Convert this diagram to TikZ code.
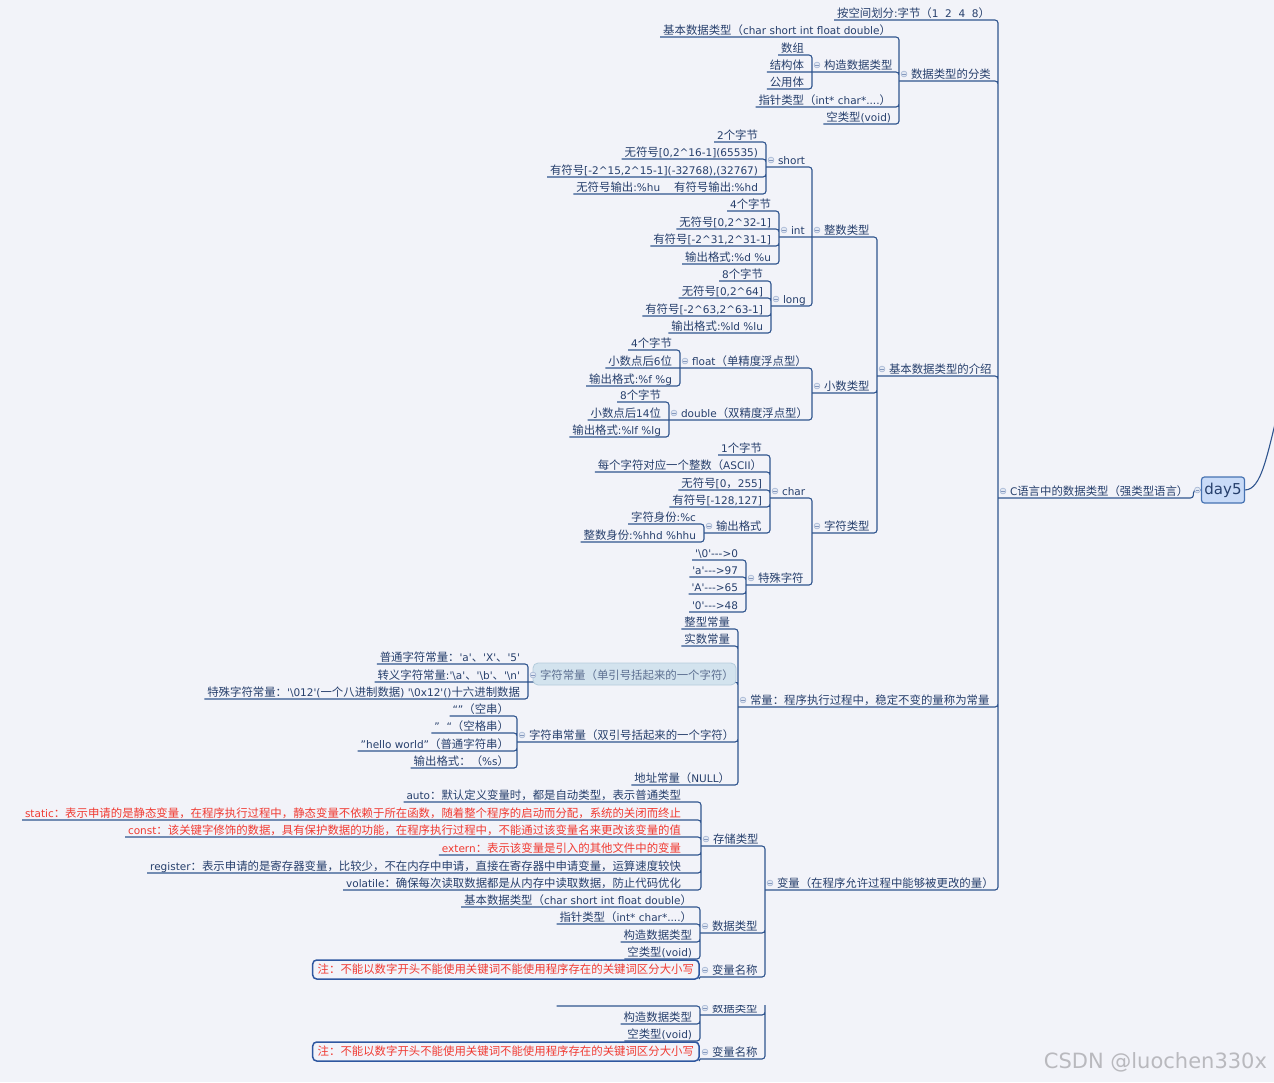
\documentclass[tikz,border=0pt]{standalone}
\usepackage{fontspec}
\usetikzlibrary{backgrounds}

\newfontfamily\latinfont{DejaVu Sans}
\newfontfamily\cjkfont{Noto Sans CJK SC}[Scale=1.086]
% switch to the CJK face for every CJK character
\XeTeXinterchartokenstate=1
\newXeTeXintercharclass\cjkclass
\count255="2E80
\loop
  \XeTeXcharclass\count255=\cjkclass
  \ifnum\count255<"9FFF \advance\count255 by 1
\repeat
\count255="FF00
\loop
  \XeTeXcharclass\count255=\cjkclass
  \ifnum\count255<"FFEF \advance\count255 by 1
\repeat
\XeTeXinterchartoks 0 \cjkclass = {\begingroup\cjkfont}
\XeTeXinterchartoks 4095 \cjkclass = {\begingroup\cjkfont}
\XeTeXinterchartoks \cjkclass 0 = {\endgroup}
\XeTeXinterchartoks \cjkclass 4095 = {\endgroup}

\definecolor{paper}{HTML}{F2F3F9}
\definecolor{ink}{HTML}{263F6C}
\definecolor{wirec}{HTML}{30558F}
\definecolor{redtext}{HTML}{F03A32}
\definecolor{foldfill}{HTML}{E2E8F3}
\definecolor{foldline}{HTML}{A3B4D2}
\definecolor{foldbarc}{HTML}{8497BC}
\definecolor{pickfill}{HTML}{D3E3EE}
\definecolor{pickline}{HTML}{B4CCDC}
\definecolor{rootfill}{HTML}{C9DBF8}
\definecolor{rootline}{HTML}{4672B2}
\definecolor{boxline}{HTML}{2E57A0}
\definecolor{wmgray}{HTML}{B9B9BE}

\tikzset{
  every node/.style={font=\latinfont\fontsize{10.5}{12}\selectfont, text=ink, inner xsep=3pt, inner ysep=3pt, outer sep=0pt, text height=8pt, text depth=0pt},
  leafnode/.style={anchor=south east, xshift=-5pt},
  branchnode/.style={anchor=south west, execute at begin node={\kern9pt}},
  wire/.style={draw=wirec, line width=1.1pt, rounded corners=3pt},
  foldmark/.style={draw=foldline, fill=foldfill, line width=0.6pt},
  foldbar/.style={draw=foldbarc, line width=0.7pt},
  topnode/.style={draw=rootline, fill=rootfill, line width=1.2pt, rounded corners=3pt, minimum width=42pt, minimum height=26pt, font=\latinfont\fontsize{15}{18}\selectfont, text height=11pt, text depth=3pt, inner ysep=0pt},
  notebox/.style={anchor=south east, draw=boxline, fill=paper, line width=1.5pt, rounded corners=4pt, text=redtext, inner xsep=5pt, inner ysep=4pt, text height=9pt, text depth=2pt},
  pickbox/.style={fill=pickfill, draw=pickline, line width=0.8pt, rounded corners=5pt},
  wmark/.style={font=\latinfont\fontsize{21}{24}\selectfont, text=wmgray, anchor=base east, text height=, text depth=},
}

\begin{document}
\begin{tikzpicture}[x=1pt,y=-1pt]
  \useasboundingbox (0,0) rectangle (1274,1082);
  \begin{scope}[on background layer]
    \fill[paper] (0,0) rectangle (1274,1082);
  \end{scope}

  \node[topnode] (day5) at (1223,490) {day5};
  \node[branchnode] (cyy) at (998,498) {C语言中的数据类型（强类型语言）};

  \node[leafnode] (kj) at (998,20) {按空间划分:字节（1~~2~~4~~8）};
  \node[branchnode] (fl) at (899,81) {数据类型的分类};
  \node[branchnode] (js) at (877,376) {基本数据类型的介绍};
  \node[branchnode] (cl) at (738,707) {常量：程序执行过程中，稳定不变的量称为常量};
  \node[branchnode] (bl) at (765,890) {变量（在程序允许过程中能够被更改的量）};

  % data type classes
  \node[leafnode] (jb) at (899,37) {基本数据类型（char short int float double）};
  \node[branchnode] (gz) at (812,72) {构造数据类型};
  \node[leafnode] (zz) at (899,107) {指针类型（int* char*....）};
  \node[leafnode] (kl) at (899,124) {空类型(void)};
  \node[leafnode] (sz) at (812,55) {数组};
  \node[leafnode] (jg) at (812,72) {结构体};
  \node[leafnode] (gy) at (812,89) {公用体};

  % basic types
  \node[branchnode] (zs) at (812,237) {整数类型};
  \node[branchnode] (xs) at (812,393) {小数类型};
  \node[branchnode] (zf) at (812,533) {字符类型};

  \node[branchnode] (sh) at (766,167) {short};
  \node[branchnode] (it) at (779,237) {int};
  \node[branchnode] (lg) at (771,306) {long};
  \node[leafnode] (sh1) at (766,142) {2个字节};
  \node[leafnode] (sh2) at (766,159) {无符号[0,2\textasciicircum16-1](65535)};
  \node[leafnode] (sh3) at (766,177) {有符号[-2\textasciicircum15,2\textasciicircum15-1](-32768),(32767)};
  \node[leafnode] (sh4) at (766,194) {无符号输出:\%hu\hspace{14pt}有符号输出:\%hd};
  \node[leafnode] (it1) at (779,211) {4个字节};
  \node[leafnode] (it2) at (779,229) {无符号[0,2\textasciicircum32-1]};
  \node[leafnode] (it3) at (779,246) {有符号[-2\textasciicircum31,2\textasciicircum31-1]};
  \node[leafnode] (it4) at (779,264) {输出格式:\%d \%u};
  \node[leafnode] (lg1) at (771,281) {8个字节};
  \node[leafnode] (lg2) at (771,298) {无符号[0,2\textasciicircum64]};
  \node[leafnode] (lg3) at (771,316) {有符号[-2\textasciicircum63,2\textasciicircum63-1]};
  \node[leafnode] (lg4) at (771,333) {输出格式:\%ld \%lu};

  \node[branchnode] (ft) at (680,368) {float（单精度浮点型）};
  \node[branchnode] (db) at (669,420) {double（双精度浮点型）};
  \node[leafnode] (ft1) at (680,350) {4个字节};
  \node[leafnode] (ft2) at (680,368) {小数点后6位};
  \node[leafnode] (ft3) at (680,386) {输出格式:\%f \%g};
  \node[leafnode] (db1) at (669,402) {8个字节};
  \node[leafnode] (db2) at (669,420) {小数点后14位};
  \node[leafnode] (db3) at (669,437) {输出格式:\%lf \%lg};

  \node[branchnode] (ch) at (770,498) {char};
  \node[branchnode] (ts) at (746,585) {特殊字符};
  \node[leafnode] (ch1) at (770,455) {1个字节};
  \node[leafnode] (ch2) at (770,472) {每个字符对应一个整数（ASCII）};
  \node[leafnode] (ch3) at (770,490) {无符号[0，255]};
  \node[leafnode] (ch4) at (770,507) {有符号[-128,127]};
  \node[branchnode] (sc) at (704,533) {输出格式};
  \node[leafnode] (sc1) at (704,524) {字符身份:\%c};
  \node[leafnode] (sc2) at (704,542) {整数身份:\%hhd \%hhu};
  \node[leafnode] (ts1) at (746,560) {'\textbackslash0'--->0};
  \node[leafnode] (ts2) at (746,577) {'a'--->97};
  \node[leafnode] (ts3) at (746,594) {'A'--->65};
  \node[leafnode] (ts4) at (746,612) {'0'--->48};

  % constants
  \node[leafnode] (zx) at (738,629) {整型常量};
  \node[leafnode] (ss) at (738,646) {实数常量};
  \path[pickbox] (533,663) rectangle (736,685);
  \node[branchnode, text=ink!75] (zc) at (528,682) {字符常量（单引号括起来的一个字符）};
  \node[branchnode] (zcc) at (517,742) {字符串常量（双引号括起来的一个字符）};
  \node[leafnode] (dz) at (738,785) {地址常量（NULL）};
  \node[leafnode] (zc1) at (528,664) {普通字符常量：'a'、'X'、'5'};
  \node[leafnode] (zc2) at (528,682) {转义字符常量:'\textbackslash a'、'\textbackslash b'、'\textbackslash n'};
  \node[leafnode] (zc3) at (528,699) {特殊字符常量：'\textbackslash012'(一个八进制数据) '\textbackslash0x12'()十六进制数据};
  \node[leafnode] (zcc1) at (517,716) {“”（空串）};
  \node[leafnode] (zcc2) at (517,733) {”~~“（空格串）};
  \node[leafnode] (zcc3) at (517,751) {”hello world”（普通字符串）};
  \node[leafnode] (zcc4) at (517,768) {输出格式：（\%s）};

  % variables
  \node[branchnode] (cc) at (701,846) {存储类型};
  \node[branchnode] (sj) at (700,933) {数据类型};
  \node[branchnode] (mc) at (700,977) {变量名称};
  \node[leafnode, xshift=-12pt] (cc1) at (701,802) {auto：默认定义变量时，都是自动类型，表示普通类型};
  \node[leafnode, xshift=-12pt, text=redtext] (cc2) at (701,820) {static：表示申请的是静态变量，在程序执行过程中，静态变量不依赖于所在函数，随着整个程序的启动而分配，系统的关闭而终止};
  \node[leafnode, xshift=-12pt, text=redtext] (cc3) at (701,837) {const：该关键字修饰的数据，具有保护数据的功能，在程序执行过程中，不能通过该变量名来更改该变量的值};
  \node[leafnode, xshift=-12pt, text=redtext] (cc4) at (701,855) {extern：表示该变量是引入的其他文件中的变量};
  \node[leafnode, xshift=-12pt] (cc5) at (701,873) {register：表示申请的是寄存器变量，比较少，不在内存中申请，直接在寄存器中申请变量，运算速度较快};
  \node[leafnode, xshift=-12pt] (cc6) at (701,890) {volatile：确保每次读取数据都是从内存中读取数据，防止代码优化};
  \node[leafnode] (sj1) at (700,907) {基本数据类型（char short int float double）};
  \node[leafnode] (sj2) at (700,924) {指针类型（int* char*....）};
  \node[leafnode] (sj3) at (700,942) {构造数据类型};
  \node[leafnode] (sj4) at (700,959) {空类型(void)};
  \node[notebox] (zy) at (699,979) {注：不能以数字开头不能使用关键词不能使用程序存在的关键词区分大小写};

  \node[wmark] (wm) at (1270,1068) {CSDN @luochen330x};

  \begin{scope}[on background layer]
    \draw[wire] (cyy.south west) -| ([xshift=-8pt]day5.west) -- (day5.west);
    \draw[wire] (day5.east) .. controls (1262,490) and (1267,455) .. (1282,395);
    \draw[wire] (kj.south west) -| (cyy.south west) (fl.south west) -| (cyy.south west)
      (js.south west) -| (cyy.south west) (cl.south west) -| (cyy.south west) (bl.south west) -| (cyy.south west);
    \draw[wire] (jb.south west) -| (fl.south west) (gz.south west) -| (fl.south west)
      (zz.south west) -| (fl.south west) (kl.south west) -| (fl.south west);
    \draw[wire] (sz.south west) -| (gz.south west) (jg.south west) -- (gz.south west) (gy.south west) -| (gz.south west);
    \draw[wire] (zs.south west) -| (js.south west) (xs.south west) -| (js.south west) (zf.south west) -| (js.south west);
    \draw[wire] (sh.south west) -| (zs.south west) (it.south west) -- (zs.south west) (lg.south west) -| (zs.south west);
    \draw[wire] (sh1.south west) -| (sh.south west) (sh2.south west) -| (sh.south west)
      (sh3.south west) -| (sh.south west) (sh4.south west) -| (sh.south west);
    \draw[wire] (it1.south west) -| (it.south west) (it2.south west) -| (it.south west)
      (it3.south west) -| (it.south west) (it4.south west) -| (it.south west);
    \draw[wire] (lg1.south west) -| (lg.south west) (lg2.south west) -| (lg.south west)
      (lg3.south west) -| (lg.south west) (lg4.south west) -| (lg.south west);
    \draw[wire] (ft.south west) -| (xs.south west) (db.south west) -| (xs.south west);
    \draw[wire] (ft1.south west) -| (ft.south west) (ft2.south west) -- (ft.south west) (ft3.south west) -| (ft.south west);
    \draw[wire] (db1.south west) -| (db.south west) (db2.south west) -- (db.south west) (db3.south west) -| (db.south west);
    \draw[wire] (ch.south west) -| (zf.south west) (ts.south west) -| (zf.south west);
    \draw[wire] (ch1.south west) -| (ch.south west) (ch2.south west) -| (ch.south west) (ch3.south west) -| (ch.south west)
      (ch4.south west) -| (ch.south west) (sc.south west) -| (ch.south west);
    \draw[wire] (sc1.south west) -| (sc.south west) (sc2.south west) -| (sc.south west);
    \draw[wire] (ts1.south west) -| (ts.south west) (ts2.south west) -| (ts.south west)
      (ts3.south west) -| (ts.south west) (ts4.south west) -| (ts.south west);
    \draw[wire] (zx.south west) -| (cl.south west) (ss.south west) -| (cl.south west) (zc.south west) -| (cl.south west)
      (zcc.south west) -| (cl.south west) (dz.south west) -| (cl.south west);
    \draw[wire] (zc1.south west) -| (zc.south west) (zc2.south west) -- (zc.south west) (zc3.south west) -| (zc.south west);
    \draw[wire] (zcc1.south west) -| (zcc.south west) (zcc2.south west) -| (zcc.south west)
      (zcc3.south west) -| (zcc.south west) (zcc4.south west) -| (zcc.south west);
    \draw[wire] (cc.south west) -| (bl.south west) (sj.south west) -| (bl.south west) (mc.south west) -| (bl.south west);
    \draw[wire] (cc1.south west) -| (cc.south west) (cc2.south west) -| (cc.south west) (cc3.south west) -| (cc.south west)
      (cc4.south west) -| (cc.south west) (cc5.south west) -| (cc.south west) (cc6.south west) -| (cc.south west);
    \draw[wire] (sj1.south west) -| (sj.south west) (sj2.south west) -| (sj.south west)
      (sj3.south west) -| (sj.south west) (sj4.south west) -| (sj.south west);
    \draw[wire] (zy.south east) -- (mc.south west);
  \end{scope}

  \foreach \n in {cyy,fl,gz,js,zs,xs,zf,sh,it,lg,ft,db,ch,sc,ts,cl,zc,zcc,bl,cc,sj,mc} {
    \draw[foldmark] ([shift={(5,-7)}]\n.south west) circle (2.9pt);
    \draw[foldbar] ([shift={(3.3,-7)}]\n.south west) -- ++(3.4,0);
  }
  \draw[foldmark] ([xshift=-4pt]day5.west) circle (2.9pt);
  \draw[foldbar] ([xshift=-5.7pt]day5.west) -- ++(3.4,0);

  % second, cut-off view of the variable part
  \begin{scope}[shift={(0,82)}]
    \clip (0,923) rectangle (1274,1000);
    \coordinate (blb) at (765,890);
    \node[branchnode] (sjb) at (700,933) {数据类型};
    \node[leafnode] (zzb) at (700,924) {指针类型（int* char*....）};
    \node[leafnode] (gzb) at (700,942) {构造数据类型};
    \node[leafnode] (klb) at (700,959) {空类型(void)};
    \node[branchnode] (mcb) at (700,977) {变量名称};
    \node[notebox] (zyb) at (699,979) {注：不能以数字开头不能使用关键词不能使用程序存在的关键词区分大小写};
    \draw[wire] (zzb.south west) -| (sjb.south west) (gzb.south west) -| (sjb.south west) (klb.south west) -| (sjb.south west)
      (sjb.south west) -| (blb) (mcb.south west) -| (blb) (zyb.south east) -- (mcb.south west);
    \foreach \n in {sjb,mcb} {
      \draw[foldmark] ([shift={(5,-7)}]\n.south west) circle (2.9pt);
      \draw[foldbar] ([shift={(3.3,-7)}]\n.south west) -- ++(3.4,0);
    }
  \end{scope}
\end{tikzpicture}
\end{document}
